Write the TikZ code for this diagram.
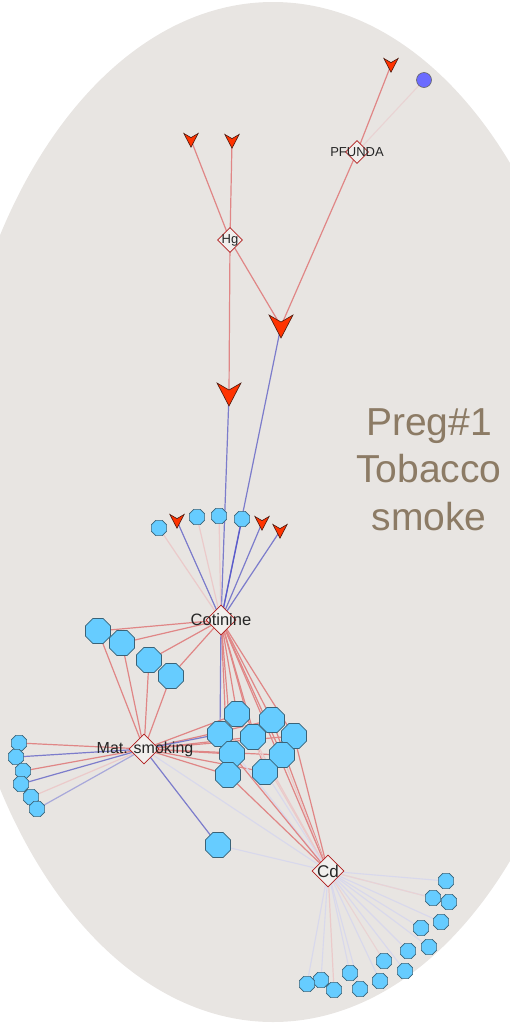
\documentclass[tikz,border=0pt]{standalone}
\usepackage{fontspec}
\setmainfont{Liberation Sans}
\usetikzlibrary{shapes.geometric}
\definecolor{bgc}{HTML}{E8E5E2}
\definecolor{octf}{HTML}{66CCFF}
\definecolor{octd}{HTML}{3A6378}
\definecolor{arrf}{HTML}{FF3300}
\definecolor{arrd}{HTML}{4A1A10}
\definecolor{dmd}{HTML}{B01C1C}
\definecolor{dmf}{HTML}{F1EFED}
\definecolor{bigt}{HTML}{8C7B65}
\definecolor{cred}{HTML}{E08686}
\definecolor{cpink}{HTML}{EBCACA}
\definecolor{cblue}{HTML}{7C7CCB}
\definecolor{cbluedk}{HTML}{5A5ACC}
\definecolor{cbluel}{HTML}{D8D8EC}
\definecolor{cpinkl}{HTML}{E9D3D3}
\definecolor{cbluem}{HTML}{A8A8DA}
\definecolor{circf}{HTML}{6B6BFF}
\pgfdeclarelayer{bg}
\pgfdeclarelayer{edges}
\pgfsetlayers{bg,edges,main}
\tikzset{
  octbig/.style={regular polygon, regular polygon sides=8, minimum size=27pt, inner sep=0pt, fill=octf, draw=octd, line width=0.7pt},
  octsm/.style={regular polygon, regular polygon sides=8, minimum size=16.5pt, inner sep=0pt, fill=octf, draw=octd, line width=0.7pt},
  dmdbox/.style={diamond, inner sep=0pt, minimum size=#1, fill=dmf, draw=dmd, line width=0.8pt},
  lbl/.style={font=\fontsize{16.5}{19}\selectfont, text=black!85, inner sep=0pt},
  lblsm/.style={font=\fontsize{13}{15}\selectfont, text=black!85, inner sep=0pt},
  er/.style={draw=cred, line width=1.2pt},
  ep/.style={draw=cpink, line width=1.2pt},
  epl/.style={draw=cpinkl, line width=1.1pt},
  eb/.style={draw=cblue, line width=1.2pt},
  ebm/.style={draw=cbluem, line width=1.2pt},
  ebd/.style={draw=cbluedk, line width=1.2pt},
  ebl/.style={draw=cbluel, line width=1.1pt},
  chev/.pic={\filldraw[fill=arrf, draw=arrd, line width=0.6pt, line join=miter] (-12,-11) -- (0,-4) -- (12,-11) -- (0,12) -- cycle;},
  bigtxt/.style={font=\fontsize{39}{47}\selectfont, text=bigt, anchor=base, inner sep=0pt}
}
\begin{document}
\begin{tikzpicture}[x=1pt,y=-1pt]
\useasboundingbox (0,0) rectangle (510,1026);
\begin{pgfonlayer}{bg}
\clip (0,0) rectangle (510,1026);
\fill[bgc] (273,512) ellipse [x radius=325pt, y radius=510pt];
\end{pgfonlayer}

% ---- coordinates for arrow-shaped nodes
\coordinate (a1) at (391,65);
\coordinate (a2) at (191,140);
\coordinate (a3) at (232,141);
\coordinate (A1) at (229,394);
\coordinate (A2) at (281,326);
\coordinate (t2) at (177,521);
\coordinate (t6) at (262,523);
\coordinate (t7) at (280,531);

% ---- diamonds
\node[dmdbox=23pt] (pf) at (357,152) {};
\node[dmdbox=25pt] (hg) at (230,240) {};
\node[dmdbox=30pt] (cot) at (221,620) {};
\node[dmdbox=30pt] (mat) at (144,749) {};
\node[dmdbox=32pt] (cd) at (328,871) {};

% ---- other nodes
\node[circle, fill=circf, draw=black!60, line width=0.6pt, minimum size=15pt, inner sep=0pt] (b1) at (424,80) {};

\node[octsm] (t1) at (159,528) {};
\node[octsm] (t3) at (197,517) {};
\node[octsm] (t4) at (219,516) {};
\node[octsm] (t5) at (242,519) {};

\node[octbig] (L1) at (98,631) {};
\node[octbig] (L2) at (122,643) {};
\node[octbig] (L3) at (149,660) {};
\node[octbig] (L4) at (171,676) {};

\node[octsm] (s1) at (19,743) {};
\node[octsm] (s2) at (16,757) {};
\node[octsm] (s3) at (23,771) {};
\node[octsm] (s4) at (21,784) {};
\node[octsm] (s5) at (31,797) {};
\node[octsm] (s6) at (37,809) {};

\node[octbig] (M1) at (237,714) {};
\node[octbig] (M2) at (272,720) {};
\node[octbig] (M3) at (220,734) {};
\node[octbig] (M4) at (253,737) {};
\node[octbig] (M5) at (294,736) {};
\node[octbig] (M6) at (232,754) {};
\node[octbig] (M7) at (282,755) {};
\node[octbig] (M8) at (228,775) {};
\node[octbig] (M9) at (265,772) {};

\node[octbig] (m0) at (218,845) {};

\node[octsm] (r1) at (446,881) {};
\node[octsm] (r2) at (433,898) {};
\node[octsm] (r3) at (449,902) {};
\node[octsm] (r4) at (441,922) {};
\node[octsm] (r5) at (421,928) {};
\node[octsm] (r6) at (429,947) {};
\node[octsm] (r7) at (408,951) {};
\node[octsm] (r8) at (405,971) {};
\node[octsm] (r9) at (384,961) {};
\node[octsm] (r10) at (380,981) {};
\node[octsm] (r11) at (350,973) {};
\node[octsm] (r12) at (360,989) {};
\node[octsm] (r13) at (334,990) {};
\node[octsm] (r14) at (321,980) {};
\node[octsm] (r15) at (307,984) {};

% ---- arrow-shaped nodes
\pic[scale=0.6] at (a1) {chev};
\pic[scale=0.6] at (a2) {chev};
\pic[scale=0.6] at (a3) {chev};
\pic at (A1) {chev};
\pic at (A2) {chev};
\pic[scale=0.6] at (t2) {chev};
\pic[scale=0.6] at (t6) {chev};
\pic[scale=0.6] at (t7) {chev};

% ---- labels
\node[lblsm] (pflbl) at (pf) {PFUNDA};
\node[lblsm] (hglbl) at (hg) {Hg};
\node[lbl] (cotlbl) at (cot) {Cotinine};
\node[lbl, font=\fontsize{16}{19}\selectfont] (matlbl) at (145,749) {Mat. smoking};
\node[lbl, font=\fontsize{17}{19}\selectfont] (cdlbl) at (cd) {Cd};

\node[bigtxt] (g1) at (429,435) {Preg\#1};
\node[bigtxt] (g2) at (429,482.5) {Tobacco};
\node[bigtxt] (g3) at (429,530) {smoke};

% ---- edges
\begin{pgfonlayer}{edges}
\draw[er] (a1) -- (pf.center);
\draw[epl] (b1.center) -- (pf.center);
\draw[er] (pf.center) -- (A2);
\draw[er] (a2) -- (hg.center);
\draw[er] (a3) -- (hg.center);
\draw[er] (hg.center) -- (A2);
\draw[er] (hg.center) -- (A1);
\draw[eb] (A1) -- (cot.center);
\draw[eb] (A2) -- (cot.center);

\draw[ep] (t1.center) -- (cot.center);
\draw[eb] (t2) -- (cot.center);
\draw[ep] (t3.center) -- (cot.center);
\draw[ep] (t4.center) -- (cot.center);
\draw[ebd] (t5.center) -- (cot.center);
\draw[eb] (t6) -- (cot.center);
\draw[eb] (t7) -- (cot.center);

\foreach \n in {L1,L2,L3,L4}{
  \draw[er] (\n.center) -- (cot.center);
  \draw[er] (\n.center) -- (mat.center);
}

\draw[er] (s1.center) -- (mat.center);
\draw[eb] (s2.center) -- (mat.center);
\draw[er] (s3.center) -- (mat.center);
\draw[eb] (s4.center) -- (mat.center);
\draw[ep] (s5.center) -- (mat.center);
\draw[ebm] (s6.center) -- (mat.center);

\draw[eb] (mat.center) -- (m0.center);
\draw[ebl] (m0.center) -- (cd.center);

\foreach \n in {M1,M2,M4,M5,M6,M7,M8,M9}{
  \draw[er] (\n.center) -- (cot.center);
}
\draw[eb] (M3.center) -- (cot.center);
\foreach \n in {M1,M2,M4,M5,M6,M7,M8,M9}{
  \draw[er] (\n.center) -- (mat.center);
}
\draw[eb] (M3.center) -- (mat.center);
\draw[ep] (M1.center) -- (cd.center);
\draw[er] (M2.center) -- (cd.center);
\draw[ebl] (M3.center) -- (cd.center);
\draw[ep] (M4.center) -- (cd.center);
\draw[er] (M5.center) -- (cd.center);
\draw[er] (M6.center) -- (cd.center);
\draw[ep] (M7.center) -- (cd.center);
\draw[er] (M8.center) -- (cd.center);
\draw[ebl] (M9.center) -- (cd.center);
\draw[er] (cot.center) -- (cd.center);
\draw[ebl] (mat.center) -- (cd.center);

\foreach \n in {r1,r3,r4,r5,r6,r7,r8,r10,r11,r12,r14,r15}{
  \draw[ebl] (\n.center) -- (cd.center);
}
\draw[epl] (r2.center) -- (cd.center);
\draw[epl] (r9.center) -- (cd.center);
\draw[ep] (r13.center) -- (cd.center);
\end{pgfonlayer}
\end{tikzpicture}
\end{document}
